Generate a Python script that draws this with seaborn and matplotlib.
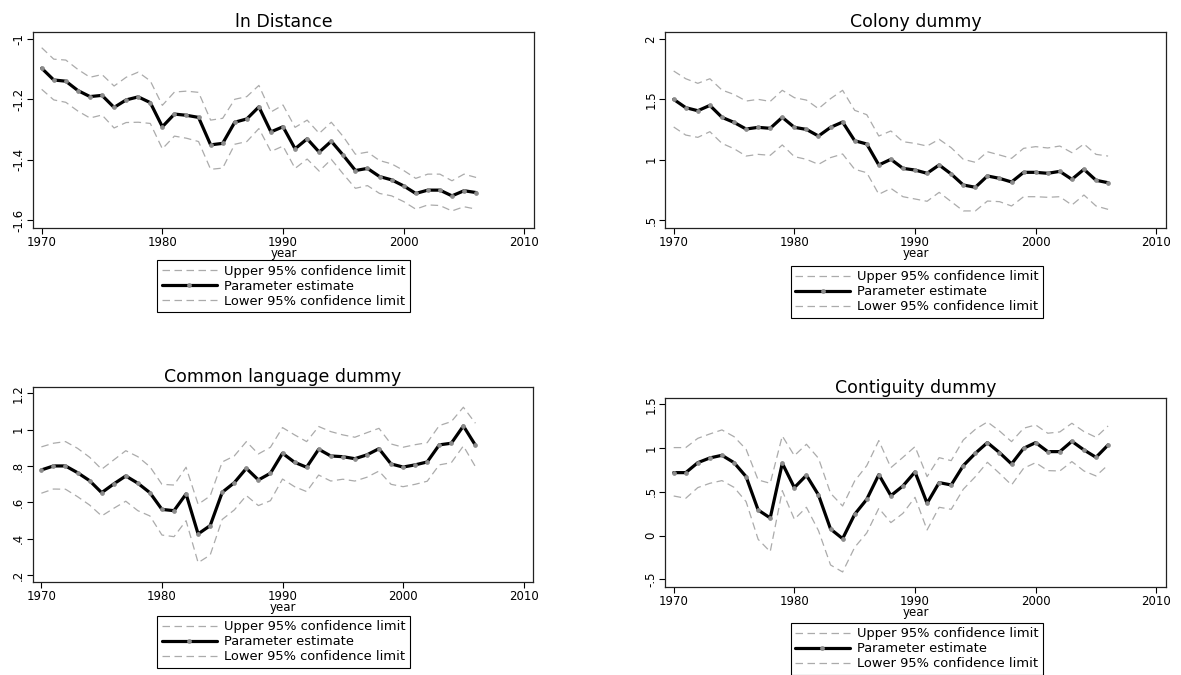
import matplotlib
matplotlib.use("Agg")
import matplotlib.pyplot as plt
import seaborn as sns
import pandas as pd

years = list(range(1970, 2007))

dist_est = [-1.097,-1.136,-1.140,-1.171,-1.191,-1.187,-1.227,-1.202,-1.192,-1.211,-1.291,-1.249,-1.253,-1.260,-1.351,-1.346,-1.276,-1.265,-1.225,-1.308,-1.291,
            -1.364,-1.331,-1.375,-1.339,-1.386,-1.436,-1.429,-1.456,-1.467,-1.487,-1.512,-1.501,-1.501,-1.520,-1.503,-1.509]
dist_up = [-1.029,-1.067,-1.070,-1.101,-1.127,-1.118,-1.156,-1.127,-1.110,-1.139,-1.220,-1.176,-1.173,-1.177,-1.269,-1.263,-1.200,-1.191,-1.154,-1.242,-1.219,
           -1.293,-1.269,-1.313,-1.276,-1.324,-1.382,-1.375,-1.403,-1.414,-1.436,-1.462,-1.448,-1.448,-1.470,-1.448,-1.459]
dist_lo = [-1.167,-1.202,-1.210,-1.239,-1.262,-1.252,-1.295,-1.277,-1.276,-1.280,-1.364,-1.322,-1.329,-1.340,-1.432,-1.428,-1.349,-1.340,-1.297,-1.373,-1.355,
           -1.429,-1.398,-1.438,-1.399,-1.448,-1.495,-1.486,-1.512,-1.520,-1.539,-1.564,-1.550,-1.552,-1.570,-1.556,-1.564]

colony_est = [1.500,1.431,1.406,1.450,1.351,1.309,1.254,1.268,1.260,1.351,1.268,1.251,1.196,1.268,1.312,1.157,1.130,0.956,1.003,
              0.928,0.914,0.887,0.956,0.881,0.790,0.771,0.865,0.845,0.815,0.895,0.895,0.887,0.903,0.837,0.920,0.829,0.809]
colony_up = [1.735,1.671,1.633,1.671,1.577,1.541,1.486,1.500,1.483,1.575,1.514,1.494,1.423,1.506,1.575,1.409,1.373,1.196,1.238,
             1.149,1.135,1.113,1.169,1.099,1.003,0.978,1.066,1.039,1.011,1.094,1.108,1.097,1.113,1.058,1.130,1.044,1.030]
colony_lo = [1.271,1.204,1.185,1.232,1.135,1.091,1.030,1.044,1.036,1.122,1.025,1.003,0.961,1.017,1.047,0.920,0.892,0.713,0.762,
             0.693,0.674,0.655,0.729,0.652,0.575,0.575,0.657,0.652,0.616,0.693,0.693,0.688,0.693,0.624,0.707,0.616,0.588]

lang_est = [0.778,0.800,0.800,0.763,0.719,0.653,0.701,0.745,0.705,0.653,0.561,0.554,0.646,0.426,0.472,0.655,0.708,0.787,0.723,0.760,0.870,
            0.820,0.793,0.892,0.855,0.851,0.840,0.861,0.895,0.811,0.794,0.806,0.822,0.916,0.925,1.020,0.914]
lang_up = [0.905,0.925,0.934,0.897,0.848,0.782,0.833,0.884,0.851,0.796,0.699,0.695,0.793,0.589,0.635,0.822,0.855,0.934,0.866,0.903,1.011,
           0.971,0.934,1.017,0.989,0.971,0.958,0.983,1.007,0.921,0.903,0.917,0.928,1.022,1.044,1.123,1.035]
lang_lo = [0.650,0.673,0.672,0.631,0.585,0.525,0.567,0.606,0.554,0.525,0.420,0.411,0.499,0.268,0.310,0.506,0.558,0.637,0.582,0.609,0.728,
           0.686,0.659,0.750,0.717,0.727,0.717,0.738,0.772,0.699,0.686,0.699,0.716,0.806,0.818,0.910,0.796]

contig_est = [0.719,0.719,0.833,0.887,0.917,0.833,0.673,0.292,0.201,0.826,0.548,0.689,0.464,0.075,-0.035,0.243,0.414,0.696,0.456,
              0.567,0.727,0.369,0.605,0.578,0.799,0.940,1.062,0.948,0.818,0.997,1.062,0.959,0.959,1.077,0.978,0.894,1.035]
contig_up = [1.005,1.005,1.111,1.161,1.207,1.130,0.986,0.635,0.597,1.138,0.913,1.043,0.883,0.483,0.338,0.624,0.799,1.085,0.776,
             0.894,1.016,0.673,0.890,0.856,1.092,1.214,1.298,1.195,1.073,1.226,1.264,1.169,1.184,1.283,1.188,1.123,1.252]
contig_lo = [0.452,0.426,0.548,0.597,0.628,0.551,0.388,-0.043,-0.184,0.513,0.186,0.323,0.056,-0.336,-0.416,-0.134,0.030,0.312,0.148,
             0.254,0.437,0.064,0.323,0.300,0.529,0.673,0.837,0.711,0.578,0.769,0.833,0.742,0.738,0.845,0.738,0.681,0.807]

titles = ["ln Distance", "Colony dummy", "Common language dummy", "Contiguity dummy"]
x_ticks = [1970, 1980, 1990, 2000, 2010]
x_ticklabels = ["1970", "1980", "1990", "2000", "2010"]
y_ticks = [[-1.6, -1.4, -1.2, -1.0], [0.5, 1.0, 1.5, 2.0], [0.2, 0.4, 0.6, 0.8, 1.0, 1.2], [-0.5, 0.0, 0.5, 1.0, 1.5]]
y_ticklabels = [["-1.6", "-1.4", "-1.2", "-1"], [".5", "1", "1.5", "2"],
                [".2", ".4", ".6", ".8", "1", "1.2"], ["-.5", "0", ".5", "1", "1.5"]]
legend_labels = ["Upper 95% confidence limit", "Parameter estimate", "Lower 95% confidence limit"]
x_label = "year"

sns.set_style("white")
plt.rcParams["font.family"] = ["DejaVu Sans"]
plt.rcParams["text.color"] = "black"
plt.rcParams["axes.labelcolor"] = "black"
plt.rcParams["xtick.color"] = "black"
plt.rcParams["ytick.color"] = "black"

W, H = 1181, 675
fig = plt.figure(figsize=(W / 100, H / 100), dpi=100)

# axes boxes in pixels: left, top, right, bottom
boxes = [(33, 31.7, 534, 228), (665, 32.3, 1166, 228.3), (32.7, 386.7, 533.3, 582.3), (665, 397.7, 1166, 587.3)]
ylims = [(-1.6265, -0.976), (0.431, 2.056), (0.16, 1.236), (-0.591, 1.575)]
legend_pos = [(157.3, 260), (790.7, 265.7), (157.3, 615.5), (790.5, 622.7)]

series = [(dist_up, dist_est, dist_lo), (colony_up, colony_est, colony_lo),
          (lang_up, lang_est, lang_lo), (contig_up, contig_est, contig_lo)]

ci_color = "#ababab"
tick_fs = 8.5
for i in range(4):
    l, t, r, b = boxes[i]
    ax = fig.add_axes([l / W, 1 - b / H, (r - l) / W, (b - t) / H])
    up, est, lo = series[i]
    df = pd.DataFrame({"year": years, "up": up, "est": est, "lo": lo})
    sns.lineplot(data=df, x="year", y="up", ax=ax, color=ci_color, lw=0.9,
                 label=legend_labels[0]).lines[-1].set_dashes((6.0, 3.6))
    sns.lineplot(data=df, x="year", y="est", ax=ax, color="black", lw=2.3,
                 marker="o", markersize=2.6, markerfacecolor="#8c8c8c",
                 markeredgecolor="#8c8c8c", label=legend_labels[1])
    sns.lineplot(data=df, x="year", y="lo", ax=ax, color=ci_color, lw=0.9,
                 label=legend_labels[2]).lines[-1].set_dashes((6.0, 3.6))
    ax.set_xlim(1969.28, 2010.8)
    ax.set_ylim(*ylims[i])
    ax.set_xticks(x_ticks)
    ax.set_xticklabels(x_ticklabels)
    ax.set_yticks(y_ticks[i])
    ax.set_yticklabels(y_ticklabels[i], rotation=90, va="center")
    ax.tick_params(axis="both", which="major", direction="out", length=4, width=0.8,
                   color="black", labelcolor="black", labelsize=tick_fs, pad=1.5,
                   bottom=True, left=True)
    for sp in ax.spines.values():
        sp.set_visible(True)
        sp.set_color("#222222")
        sp.set_linewidth(0.9)
    ax.set_xlabel(x_label, fontsize=tick_fs, labelpad=-1.5, color="black")
    ax.set_ylabel("")
    ax.set_title(titles[i], fontsize=12.5, pad=3.5, color="black")
    ax.grid(False)
    handles, labels = ax.get_legend_handles_labels()
    if ax.legend_:
        ax.legend_.remove()
    lx, ly = legend_pos[i]
    leg = ax.legend(handles, labels, loc="upper left",
                    bbox_to_anchor=(lx / W, 1 - ly / H), bbox_transform=fig.transFigure,
                    borderaxespad=0, fontsize=9.4, handlelength=4.2, handletextpad=0.55,
                    labelspacing=0.16, borderpad=0.35, fancybox=False, frameon=True,
                    framealpha=1, edgecolor="black", labelcolor="black")
    leg.get_frame().set_linewidth(0.8)

fig.savefig("out.png", dpi=100)
